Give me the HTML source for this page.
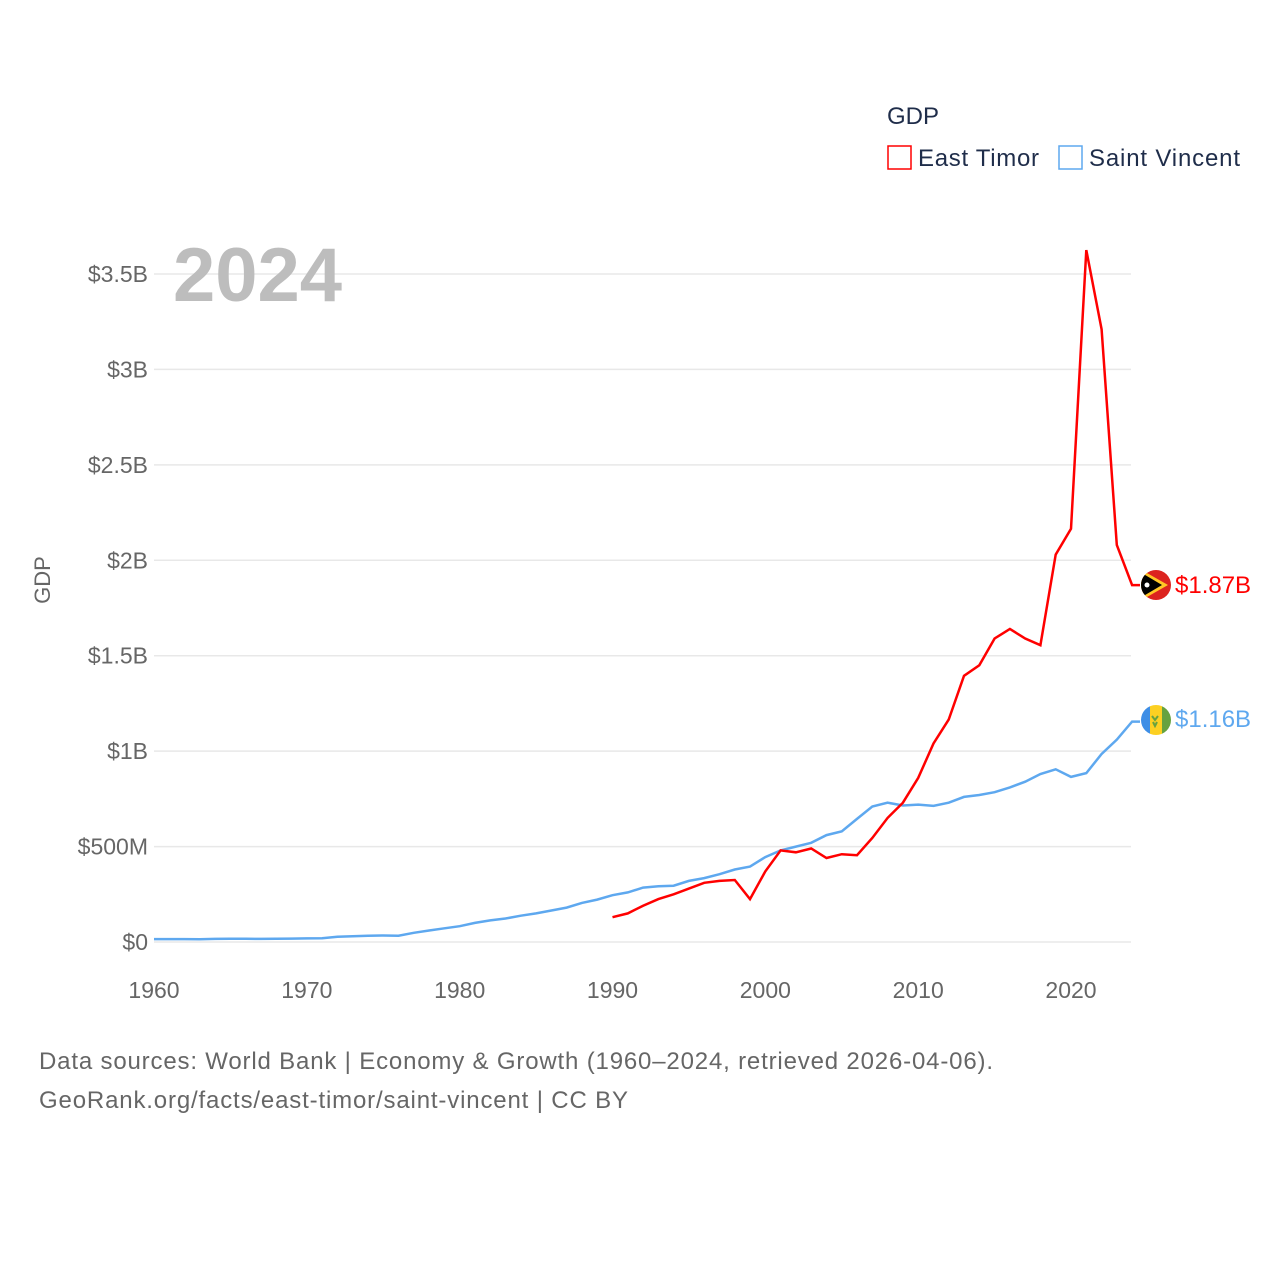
<!DOCTYPE html>
<html><head><meta charset="utf-8"><style>
body{margin:0;background:#fff;}
svg text{font-family:"Liberation Sans",sans-serif;}
</style></head><body>
<svg width="1280" height="1280" viewBox="0 0 1280 1280" xmlns="http://www.w3.org/2000/svg">
<defs>
<clipPath id="c1"><circle cx="1156" cy="585" r="15"/></clipPath>
<clipPath id="c2"><circle cx="1156" cy="720" r="15"/></clipPath>
</defs>
<g id="grid"></g>
<g id="yticks"></g>
<g id="xticks"></g>
<text x="50" y="580" transform="rotate(-90 50 580)" text-anchor="middle" font-size="22" fill="#666">GDP</text>
<text x="173" y="301" font-size="76" font-weight="bold" fill="#bdbdbd">2024</text>
<g>
<text x="887" y="124" font-size="24" fill="#1f2d4a">GDP</text>
<g><rect x="888" y="146" width="23" height="23" fill="none" stroke="#ff0000" stroke-width="1.5"/><text x="918" y="166" font-size="24" fill="#1f2d4a" textLength="121">East Timor</text></g>
<g><rect x="1059" y="146" width="23" height="23" fill="none" stroke="#5ea8ef" stroke-width="1.5"/><text x="1089" y="166" font-size="24" fill="#1f2d4a" textLength="151">Saint Vincent</text></g>
</g>
<path id="lineSV" fill="none" stroke="#5ea8ef" stroke-width="2.5"/>
<path id="lineET" fill="none" stroke="#ff0000" stroke-width="2.5"/>
<g clip-path="url(#c1)">
<rect x="1140" y="569" width="32" height="32" fill="#dc241f"/>
<polygon points="1140,569 1168,585 1140,601" fill="#ffc726"/>
<polygon points="1140,572 1162,585 1140,598" fill="#000"/>
<circle cx="1147" cy="585" r="2.5" fill="#fff"/>
</g>
<g clip-path="url(#c2)">
<rect x="1140" y="704" width="10" height="32" fill="#3e8ee6"/>
<rect x="1150" y="704" width="12" height="32" fill="#fcd022"/>
<rect x="1162" y="704" width="10" height="32" fill="#66a240"/>
<path d="M1152,716 l3,4 l3,-4 M1153,722 l2,4 l2,-4" stroke="#66a240" stroke-width="2" fill="none"/>
</g>
<text id="lblET" x="1175" y="593" font-size="24" fill="#ff0000"></text>
<text id="lblSV" x="1175" y="727" font-size="24" fill="#5ea8ef"></text>
<text x="39" y="1069" font-size="24" fill="#666" textLength="954">Data sources: World Bank | Economy &amp; Growth (1960–2024, retrieved 2026-04-06).</text>
<text x="39" y="1108" font-size="24" fill="#666" textLength="589">GeoRank.org/facts/east-timor/saint-vincent | CC BY</text>
</svg>
<script>
const yTicks=[0,0.5,1,1.5,2,2.5,3,3.5];
const yTickLabels=["$0","$500M","$1B","$1.5B","$2B","$2.5B","$3B","$3.5B"];
const xTicks=[1960,1970,1980,1990,2000,2010,2020];
const svYears=[1960,1961,1962,1963,1964,1965,1966,1967,1968,1969,1970,1971,1972,1973,1974,1975,1976,1977,1978,1979,1980,1981,1982,1983,1984,1985,1986,1987,1988,1989,1990,1991,1992,1993,1994,1995,1996,1997,1998,1999,2000,2001,2002,2003,2004,2005,2006,2007,2008,2009,2010,2011,2012,2013,2014,2015,2016,2017,2018,2019,2020,2021,2022,2023,2024];
const svValues=[0.015,0.015,0.015,0.014,0.016,0.017,0.017,0.016,0.017,0.018,0.019,0.02,0.027,0.03,0.033,0.034,0.033,0.048,0.06,0.072,0.083,0.1,0.113,0.123,0.138,0.15,0.165,0.18,0.205,0.222,0.245,0.26,0.285,0.292,0.295,0.32,0.335,0.355,0.38,0.395,0.445,0.48,0.5,0.52,0.56,0.58,0.645,0.71,0.73,0.715,0.72,0.713,0.73,0.76,0.77,0.785,0.81,0.84,0.88,0.905,0.865,0.885,0.985,1.06,1.155];
const etYears=[1990,1991,1992,1993,1994,1995,1996,1997,1998,1999,2000,2001,2002,2003,2004,2005,2006,2007,2008,2009,2010,2011,2012,2013,2014,2015,2016,2017,2018,2019,2020,2021,2022,2023,2024];
const etValues=[0.13,0.15,0.19,0.225,0.25,0.28,0.31,0.32,0.325,0.225,0.37,0.48,0.47,0.49,0.44,0.46,0.455,0.545,0.65,0.73,0.86,1.04,1.165,1.395,1.45,1.59,1.64,1.59,1.555,2.03,2.165,3.625,3.21,2.08,1.87];
const endLabels=["$1.87B","$1.16B"];
const X=y=>154+(y-1960)*(917/60);
const Y=v=>942-v*190.86;
const ns="http://www.w3.org/2000/svg";
const grid=document.getElementById('grid'),yt=document.getElementById('yticks'),xt=document.getElementById('xticks');
yTicks.forEach((v,i)=>{
 const l=document.createElementNS(ns,'line');
 l.setAttribute('x1',154);l.setAttribute('x2',1131);l.setAttribute('y1',Y(v));l.setAttribute('y2',Y(v));
 l.setAttribute('stroke','#e8e8e8');l.setAttribute('stroke-width','1.5');
 
 
 grid.appendChild(l);
 const t=document.createElementNS(ns,'text');
 t.setAttribute('x',148);t.setAttribute('y',Y(v)+8);t.setAttribute('text-anchor','end');
 t.setAttribute('font-size','23');t.setAttribute('fill','#666');t.textContent=yTickLabels[i];
 
 
 yt.appendChild(t);
});
xTicks.forEach(y=>{
 const t=document.createElementNS(ns,'text');
 t.setAttribute('x',X(y));t.setAttribute('y',998);t.setAttribute('text-anchor','middle');
 t.setAttribute('font-size','23');t.setAttribute('fill','#666');t.textContent=y;
 
 
 xt.appendChild(t);
});
const path=(ys,vs)=>ys.map((y,i)=>(i?'L':'M')+X(y).toFixed(1)+','+Y(vs[i]).toFixed(1)).join('');
document.getElementById('lineSV').setAttribute('d',path(svYears,svValues)+'L1140,'+Y(svValues[svValues.length-1]).toFixed(1));
document.getElementById('lineET').setAttribute('d',path(etYears,etValues)+'L1140,'+Y(etValues[etValues.length-1]).toFixed(1));
document.getElementById('lblET').textContent=endLabels[0];
document.getElementById('lblSV').textContent=endLabels[1];
</script>
</body></html>
